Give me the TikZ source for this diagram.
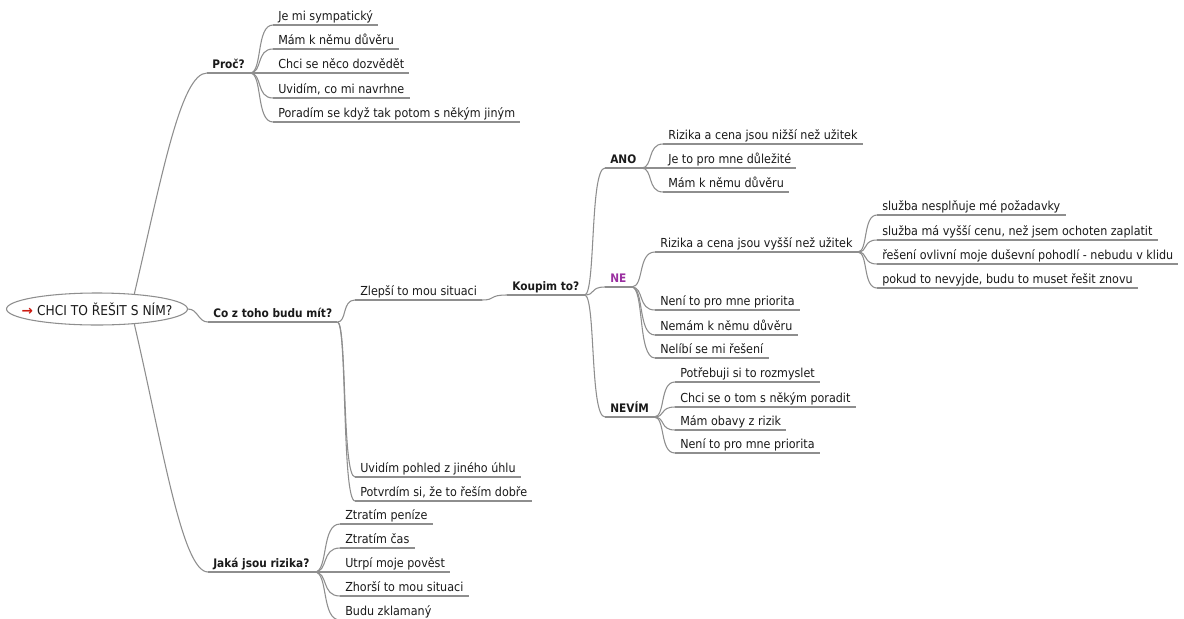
\documentclass[tikz,border=0pt]{standalone}
\usepackage{fontspec}
\setmainfont{DejaVu Sans}[FakeStretch=0.9]
\newfontfamily\arrowfont{DejaVu Sans Bold}
\usetikzlibrary{shapes.geometric,calc}
\definecolor{linegray}{HTML}{8E8E8E}
\definecolor{txt}{HTML}{1A1A1A}
\definecolor{nepurple}{HTML}{9A2FA0}
\definecolor{arrowred}{HTML}{CC1A10}

\begin{document}
\begin{tikzpicture}[x=0.75pt,y=-0.75pt,
  link/.style={draw=linegray, line width=0.8pt},
  topic/.style={anchor=south west, inner xsep=3.75pt, inner ysep=0.75pt,
    text height=7pt, text depth=2.25pt, text=txt,
    font=\fontsize{9.3pt}{11pt}\selectfont},
  head/.style={topic, font=\fontsize{8.8pt}{11pt}\selectfont\bfseries},
  rootnode/.style={ellipse, draw=linegray, line width=0.8pt, fill=white,
    minimum width=135pt, minimum height=24pt, inner xsep=-8.5pt, inner ysep=0pt,
    text=txt, font=\fontsize{10.2pt}{12pt}\selectfont},
  brace/.style={to path={let \p1=(\tikztostart), \p2=(\tikztotarget) in
    .. controls ({\x1+0.55*(\x2-\x1)},\y1) and ({\x1+0.25*(\x2-\x1)},\y2) .. (\tikztotarget)}},
]
\fill[white] (0,0) rectangle (1184,618);
\useasboundingbox (0,0) rectangle (1184,618);

% central topic
\node[rootnode] (root) at (97,309) {{\arrowfont\color{arrowred}→}\hspace{3pt}CHCI TO ŘEŠIT S NÍM?};

% main topics
\node[head] (proc) at (207,73) {Proč?};
\node[head] (co)   at (208,322) {Co z toho budu mít?};
\node[head] (jak)  at (208,572) {Jaká jsou rizika?};

% Proč?
\node[topic] (p1) at (273,25)  {Je mi sympatický};
\node[topic] (p2) at (273,49)  {Mám k němu důvěru};
\node[topic] (p3) at (273,73)  {Chci se něco dozvědět};
\node[topic] (p4) at (273,98)  {Uvidím, co mi navrhne};
\node[topic] (p5) at (273,122) {Poradím se když tak potom s někým jiným};

% Co z toho budu mít?
\node[topic] (c1) at (355,300) {Zlepší to mou situaci};
\node[topic] (c2) at (355,477) {Uvidím pohled z jiného úhlu};
\node[topic] (c3) at (355,501) {Potvrdím si, že to řeším dobře};

\node[head] (kou) at (507,295) {Koupim to?};
\node[head] (ano) at (605,168) {ANO};
\node[head,text=nepurple] (ne) at (605,287) {NE};
\node[head] (nev) at (605,417) {NEVÍM};

\node[topic] (a1) at (663,144) {Rizika a cena jsou nižší než užitek};
\node[topic] (a2) at (663,168) {Je to pro mne důležité};
\node[topic] (a3) at (663,192) {Mám k němu důvěru};

\node[topic] (n1) at (655,252) {Rizika a cena jsou vyšší než užitek};
\node[topic] (n2) at (655,310) {Není to pro mne priorita};
\node[topic] (n3) at (655,335) {Nemám k němu důvěru};
\node[topic] (n4) at (655,358) {Nelíbí se mi řešení};

\node[topic] (s1) at (877,215) {služba nesplňuje mé požadavky};
\node[topic] (s2) at (877,240) {služba má vyšší cenu, než jsem ochoten zaplatit};
\node[topic] (s3) at (877,264) {řešení ovlivní moje duševní pohodlí - nebudu v klidu};
\node[topic] (s4) at (877,288) {pokud to nevyjde, budu to muset řešit znovu};

\node[topic] (v1) at (675,382) {Potřebuji si to rozmyslet};
\node[topic] (v2) at (675,407) {Chci se o tom s někým poradit};
\node[topic] (v3) at (675,430) {Mám obavy z rizik};
\node[topic] (v4) at (675,453) {Není to pro mne priorita};

% Jaká jsou rizika?
\node[topic] (j1) at (340,524) {Ztratím peníze};
\node[topic] (j2) at (340,548) {Ztratím čas};
\node[topic] (j3) at (340,572) {Utrpí moje pověst};
\node[topic] (j4) at (340,596) {Zhorší to mou situaci};
\node[topic] (j5) at (340,620) {Budu zklamaný};

% underlines
\foreach \n in {proc,co,jak,p1,p2,p3,p4,p5,c1,c2,c3,kou,ano,ne,nev,
                a1,a2,a3,n1,n2,n3,n4,s1,s2,s3,s4,v1,v2,v3,v4,j1,j2,j3,j4,j5}
  \draw[link] (\n.south west) -- (\n.south east);

% connectors from the central topic
\draw[link] (root.22) .. controls +(28,-120) and +(-26,0) .. (proc.south west);
\draw[link] (root.-22) .. controls +(28,120) and +(-26,0) .. (jak.south west);
\draw[link] (root.east) .. controls +(10,0) and +(-10,0) .. (co.south west);

% branch connectors
\foreach \c in {p1,p2,p3,p4,p5} \draw[link] (proc.south east) to[brace] (\c.south west);
\foreach \c in {c1,c2,c3} \draw[link] (co.south east) to[brace] (\c.south west);
\draw[link] (c1.south east) to[brace] (kou.south west);
\foreach \c in {ano,ne,nev} \draw[link] (kou.south east) to[brace] (\c.south west);
\foreach \c in {a1,a2,a3} \draw[link] (ano.south east) to[brace] (\c.south west);
\foreach \c in {n1,n2,n3,n4} \draw[link] (ne.south east) to[brace] (\c.south west);
\foreach \c in {s1,s2,s3,s4} \draw[link] (n1.south east) to[brace] (\c.south west);
\foreach \c in {v1,v2,v3,v4} \draw[link] (nev.south east) to[brace] (\c.south west);
\foreach \c in {j1,j2,j3,j4,j5} \draw[link] (jak.south east) to[brace] (\c.south west);
\end{tikzpicture}
\end{document}
